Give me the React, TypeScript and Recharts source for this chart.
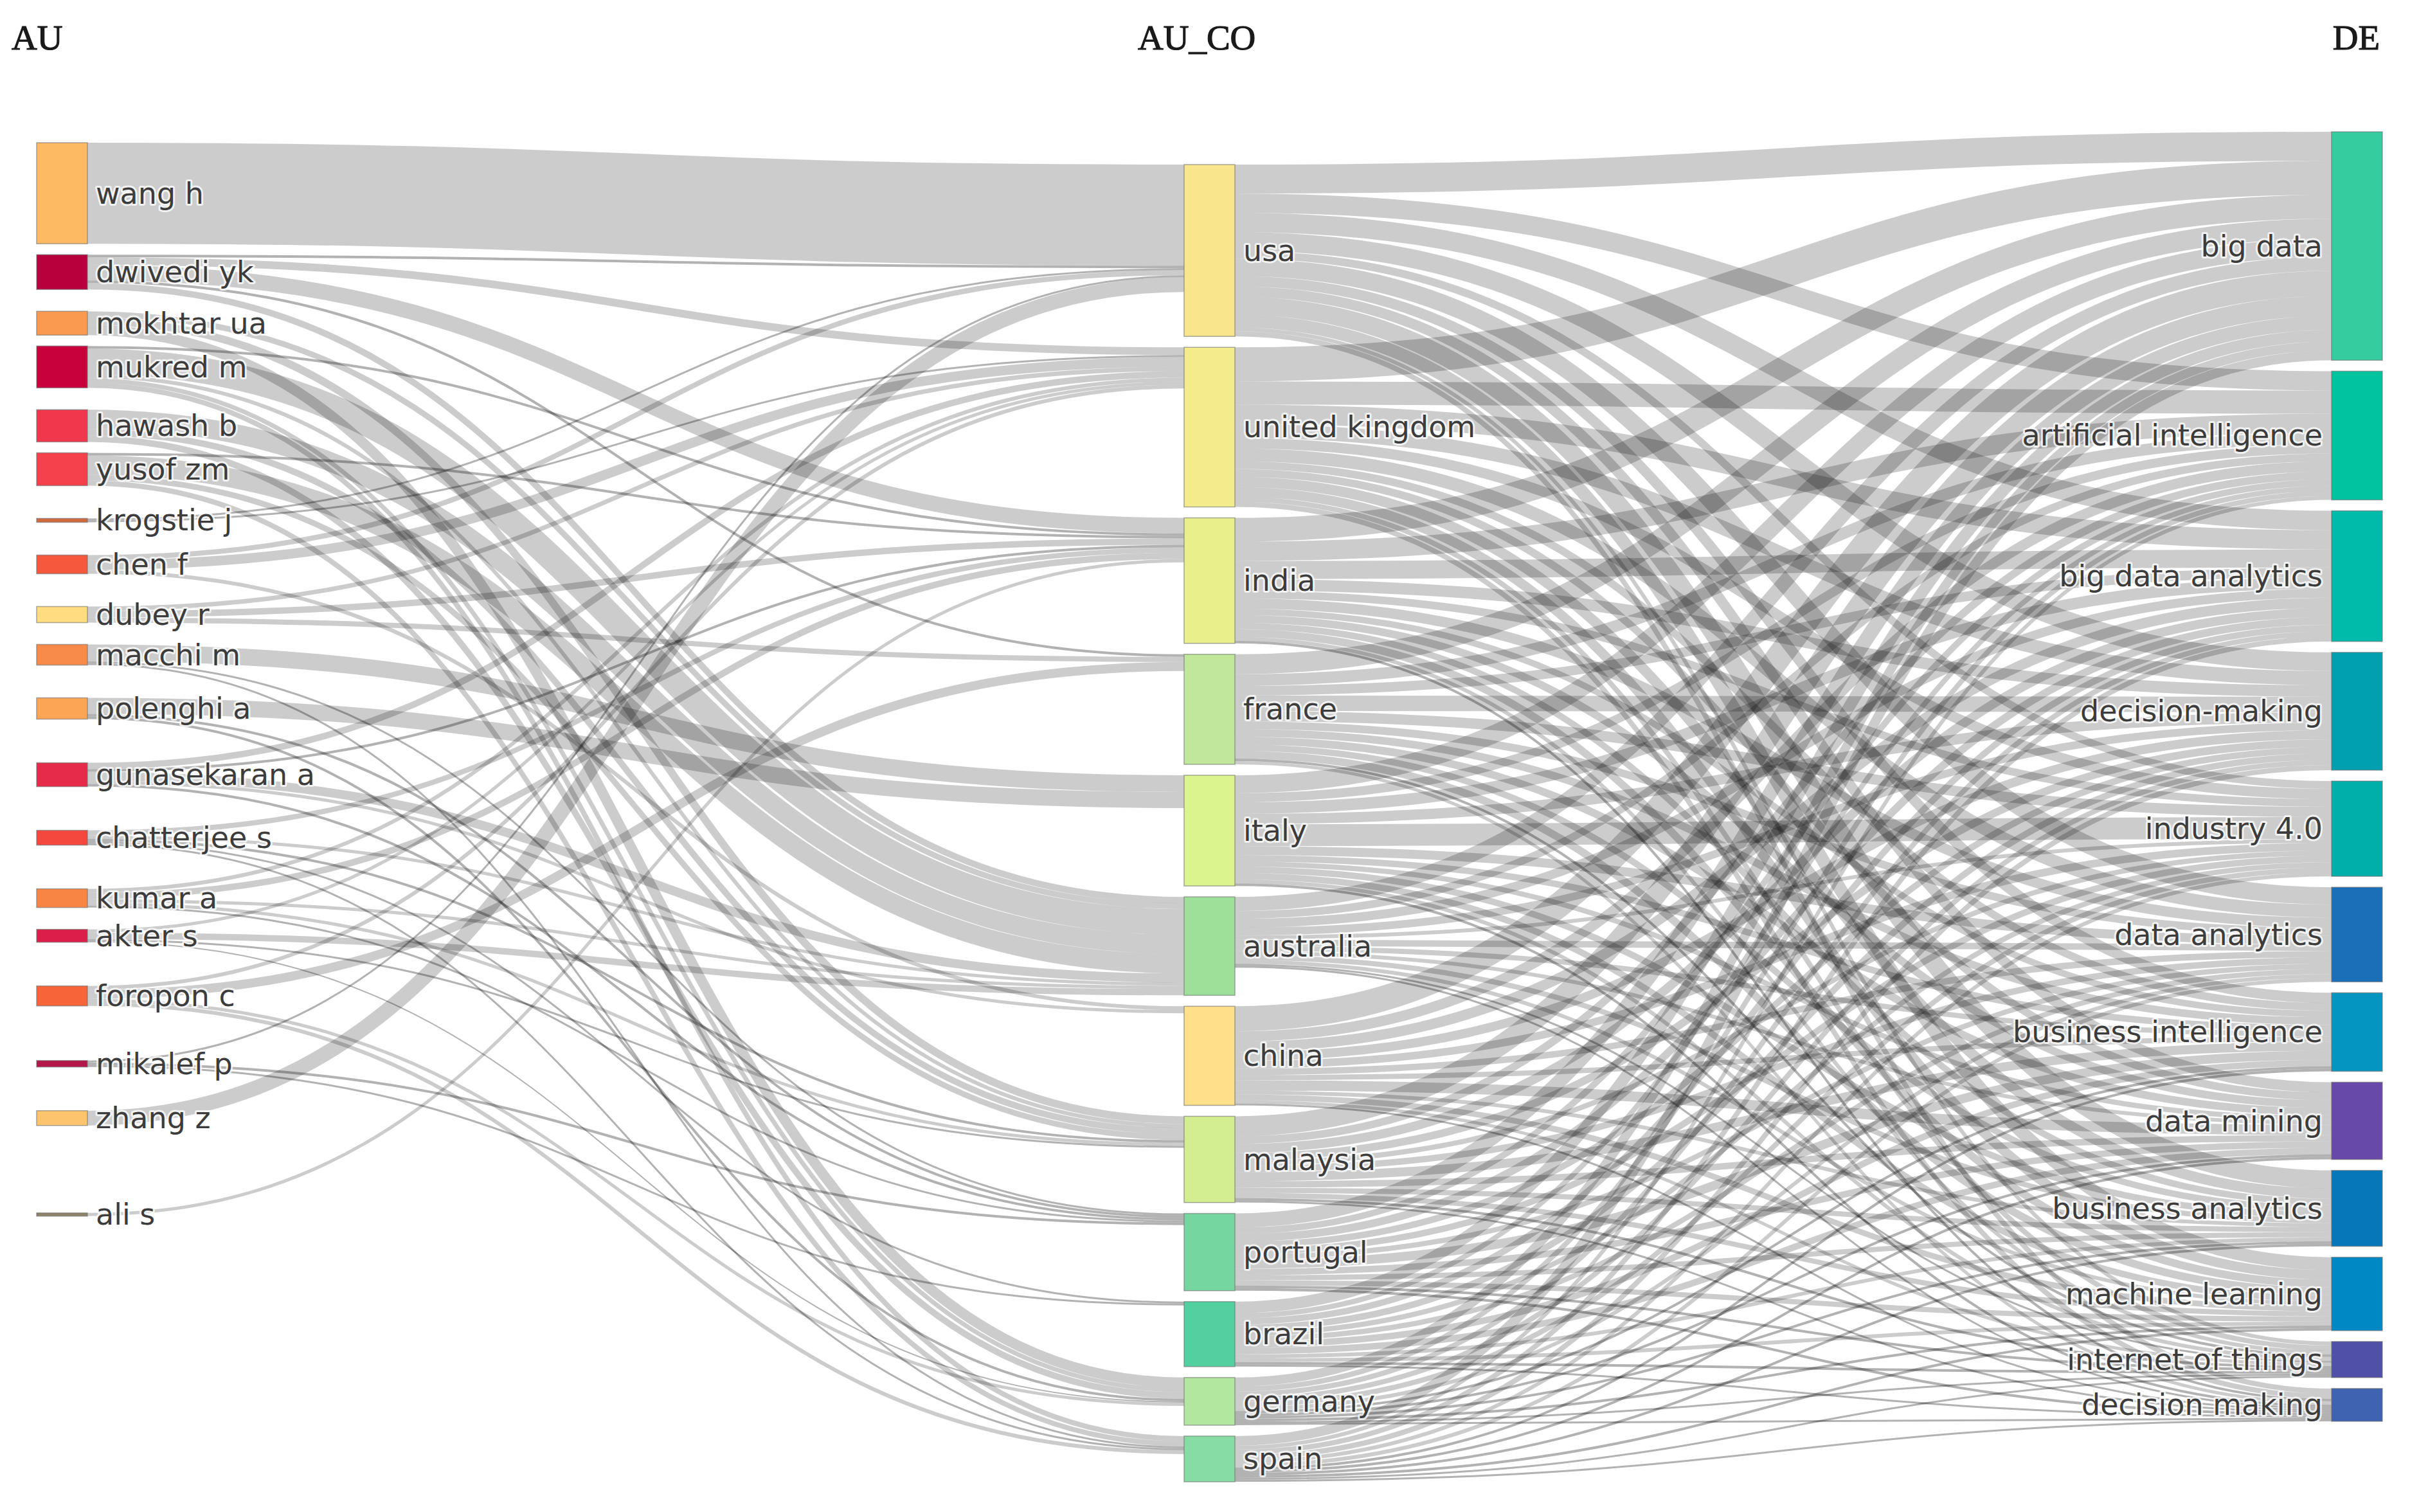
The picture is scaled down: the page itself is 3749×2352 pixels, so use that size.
import { Sankey } from "recharts"

// Three-field plot: authors (AU) -> author countries (AU_CO) -> author keywords (DE)

const authors = [
  "wang h", "dwivedi yk", "mokhtar ua", "mukred m", "hawash b", "yusof zm", "krogstie j",
  "chen f", "dubey r", "macchi m", "polenghi a", "gunasekaran a", "chatterjee s", "kumar a",
  "akter s", "foropon c", "mikalef p", "zhang z", "ali s",
]
const authorColors = [
  "#FDBA63", "#B8003D", "#FA9A50", "#C8003C", "#F0374B", "#F5414B", "#D2693C",
  "#F5583C", "#FFDC80", "#F88B4A", "#FCA555", "#E52B49", "#F4483E", "#F98545",
  "#DC1E4A", "#F8643A", "#B3174A", "#FDC46E", "#8E8467",
]

const countries = [
  "usa", "united kingdom", "india", "france", "italy", "australia",
  "china", "malaysia", "portugal", "brazil", "germany", "spain",
]
const countryColors = [
  "#F9E58C", "#F4EC8B", "#E8F08C", "#BFE89A", "#DCF48E", "#9EE09A",
  "#FEE08A", "#D2EE90", "#76D6A0", "#52D0A0", "#B1E79E", "#86DCA2",
]

const keywords = [
  "big data", "artificial intelligence", "big data analytics", "decision-making",
  "industry 4.0", "data analytics", "business intelligence", "data mining",
  "business analytics", "machine learning", "internet of things", "decision making",
]
const keywordColors = [
  "#35CCA0", "#00C4A0", "#00BBAA", "#00A0B0", "#00AFAA", "#1A6FB8",
  "#0496C0", "#6649A8", "#0678BA", "#0088C4", "#5050A8", "#3F63B0",
]

// author -> country flows
const authorCountryLinks: [string, string, number][] = [
  ["wang h", "usa", 157],
  ["dwivedi yk", "india", 24], ["dwivedi yk", "united kingdom", 12], ["dwivedi yk", "australia", 10],
  ["dwivedi yk", "usa", 4], ["dwivedi yk", "france", 4],
  ["mokhtar ua", "germany", 16], ["mokhtar ua", "malaysia", 12], ["mokhtar ua", "australia", 9],
  ["mukred m", "australia", 40], ["mukred m", "spain", 8], ["mukred m", "germany", 7],
  ["mukred m", "malaysia", 6], ["mukred m", "india", 4],
  ["hawash b", "australia", 30], ["hawash b", "malaysia", 10], ["hawash b", "germany", 10],
  ["yusof zm", "australia", 30], ["yusof zm", "malaysia", 9], ["yusof zm", "spain", 8], ["yusof zm", "india", 4],
  ["krogstie j", "usa", 3], ["krogstie j", "united kingdom", 3],
  ["chen f", "united kingdom", 15], ["chen f", "usa", 8], ["chen f", "china", 6],
  ["dubey r", "india", 10], ["dubey r", "france", 8], ["dubey r", "united kingdom", 7],
  ["macchi m", "italy", 26], ["macchi m", "spain", 3], ["macchi m", "portugal", 3],
  ["polenghi a", "italy", 25], ["polenghi a", "germany", 4], ["polenghi a", "portugal", 4],
  ["gunasekaran a", "australia", 14], ["gunasekaran a", "united kingdom", 10], ["gunasekaran a", "china", 5],
  ["gunasekaran a", "portugal", 4], ["gunasekaran a", "india", 4],
  ["chatterjee s", "india", 8], ["chatterjee s", "australia", 5], ["chatterjee s", "malaysia", 4],
  ["chatterjee s", "brazil", 3], ["chatterjee s", "spain", 3],
  ["kumar a", "india", 10], ["kumar a", "united kingdom", 6], ["kumar a", "malaysia", 5],
  ["kumar a", "australia", 5], ["kumar a", "portugal", 3],
  ["akter s", "australia", 10], ["akter s", "united kingdom", 5], ["akter s", "malaysia", 3], ["akter s", "germany", 2],
  ["foropon c", "france", 14], ["foropon c", "united kingdom", 6], ["foropon c", "spain", 6], ["foropon c", "germany", 5],
  ["mikalef p", "portugal", 4], ["mikalef p", "usa", 3], ["mikalef p", "brazil", 3],
  ["zhang z", "usa", 23],
  ["ali s", "india", 5],
]

// country -> keyword flows, one row per country, columns in keyword order
const countryKeywordValues: number[][] = [
  [45, 30, 30, 29, 12, 27, 16, 16, 28, 20, 6, 8], // usa
  [53, 36, 30, 22, 16, 20, 12, 12, 16, 15, 8, 8], // united kingdom
  [37, 30, 28, 18, 12, 16, 10, 12, 10, 12, 6, 4], // india
  [31, 18, 15, 24, 16, 12, 12, 12, 10, 12, 4, 5], // france
  [28, 14, 18, 16, 34, 14, 10, 8, 10, 10, 6, 4], // italy
  [22, 12, 14, 12, 6, 10, 8, 6, 8, 6, 3, 3], // australia
  [39, 16, 16, 14, 12, 10, 8, 16, 6, 9, 5, 3], // china
  [31, 12, 14, 12, 8, 10, 14, 10, 8, 8, 4, 3], // malaysia
  [22, 10, 12, 10, 10, 8, 14, 10, 8, 8, 4, 4], // portugal
  [18, 8, 10, 10, 8, 8, 10, 10, 6, 6, 4, 3], // brazil
  [14, 8, 8, 8, 8, 6, 4, 4, 4, 4, 3, 3], // germany
  [15, 6, 8, 8, 6, 6, 4, 4, 4, 4, 3, 3], // spain
]

// layout only: empty padding slots inserted before each author, and above the countries
const authorGapSlots = [1, 0, 1, 0, 1, 0, 2, 2, 2, 1, 2, 3, 3, 3, 1, 3, 4, 3, 7]
const countryTopSlots = 3

type FieldNode = { name: string; column: "AU" | "AU_CO" | "DE"; color?: string; spacer?: boolean }

function buildData() {
  const nodes: FieldNode[] = []
  const links: { source: number; target: number; value: number }[] = []
  const idx: Record<string, number> = {}
  const leftSpacers: number[] = []
  const midSpacers: number[] = []

  authors.forEach((a, i) => {
    for (let k = 0; k < authorGapSlots[i]; k++) {
      leftSpacers.push(nodes.length)
      nodes.push({ name: `gap-au-${i}-${k}`, column: "AU", spacer: true })
    }
    idx["AU:" + a] = nodes.length
    nodes.push({ name: a, column: "AU", color: authorColors[i] })
  })
  for (let k = 0; k < countryTopSlots; k++) {
    midSpacers.push(nodes.length)
    nodes.push({ name: `gap-co-${k}`, column: "AU_CO", spacer: true })
  }
  countries.forEach((c, i) => {
    idx["CO:" + c] = nodes.length
    nodes.push({ name: c, column: "AU_CO", color: countryColors[i] })
  })
  keywords.forEach((k, i) => {
    idx["DE:" + k] = nodes.length
    nodes.push({ name: k, column: "DE", color: keywordColors[i] })
  })

  authorCountryLinks.forEach(([a, c, v]) => {
    links.push({ source: idx["AU:" + a], target: idx["CO:" + c], value: v })
  })
  countries.forEach((c, i) => {
    countryKeywordValues[i].forEach((v, j) => {
      if (v > 0) links.push({ source: idx["CO:" + c], target: idx["DE:" + keywords[j]], value: v })
    })
  })
  // zero-width links keep the spacer nodes in their columns
  leftSpacers.forEach((s, j) => links.push({ source: s, target: midSpacers[j % midSpacers.length], value: 0 }))
  midSpacers.forEach((s) => links.push({ source: s, target: idx["DE:" + keywords[0]], value: 0 }))

  return { nodes, links }
}

const data = buildData()

function NodeBox(props: any) {
  const { x, y, width, height, payload } = props
  if (!payload || payload.spacer) return <g />
  const onRight = payload.column === "DE"
  return (
    <g>
      <rect
        x={x}
        y={y}
        width={width}
        height={Math.max(height, 3)}
        fill={payload.color}
        stroke="#6f6f6f"
        strokeOpacity={0.6}
        strokeWidth={1.5}
      />
      <text
        x={onRight ? x - 14 : x + width + 13}
        y={y + height / 2}
        textAnchor={onRight ? "end" : "start"}
        dominantBaseline="central"
        fontFamily="'DejaVu Sans', Verdana, sans-serif"
        fontSize={46}
        fill="#3c3c3c"
        stroke="#fff"
        strokeOpacity={0.75}
        strokeWidth={6}
        strokeLinejoin="round"
        paintOrder="stroke"
      >
        {payload.name}
      </text>
    </g>
  )
}

function FlowLink(props: any) {
  const { sourceX, targetX, sourceY, targetY, sourceControlX, targetControlX, linkWidth, payload } = props
  if (!linkWidth || linkWidth <= 0 || (payload && payload.value <= 0)) return <g />
  return (
    <path
      d={`M${sourceX},${sourceY}C${sourceControlX},${sourceY} ${targetControlX},${targetY} ${targetX},${targetY}`}
      fill="none"
      stroke="#000"
      strokeOpacity={linkWidth < 5 ? 0.3 : 0.2}
      strokeWidth={Math.max(linkWidth, 1.5)}
    />
  )
}

export default function App() {
  const W = 3720
  const H = 2317
  return (
    <div style={{ position: "relative", width: W, height: H }}>
      <Sankey
        width={W}
        height={H}
        data={data}
        margin={{ top: 197, right: 22, bottom: 20, left: 49 }}
        nodeWidth={79}
        nodePadding={17}
        iterations={0}
        verticalAlign="top"
        linkCurvature={0.5}
        node={(p: any) => <NodeBox {...p} />}
        link={(p: any) => <FlowLink {...p} />}
      />
      <svg width={W} height={120} style={{ position: "absolute", left: 0, top: 0, pointerEvents: "none" }}>
        <g
          fontFamily="'Liberation Serif', 'Times New Roman', serif"
          fontSize={55}
          fill="#1a1a1a"
          stroke="#1a1a1a"
          strokeWidth={1.2}
        >
          <text x={10} y={69}>AU</text>
          <text x={1762} y={69}>AU_CO</text>
          <text x={3694} y={69} textAnchor="end">DE</text>
        </g>
      </svg>
    </div>
  )
}
